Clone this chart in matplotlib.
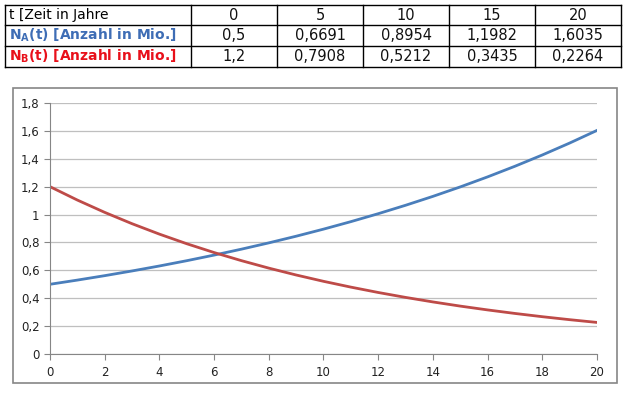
import matplotlib
matplotlib.use("Agg")
import matplotlib.pyplot as plt
from matplotlib.ticker import FuncFormatter, MultipleLocator
from matplotlib.lines import Line2D
from matplotlib.patches import Rectangle

plt.rcParams['font.family'] = ['DejaVu Sans']
plt.rcParams['mathtext.fontset'] = 'dejavusans'

# table values
t_table = [0, 5, 10, 15, 20]
na_table = [0.5, 0.6691, 0.8954, 1.1982, 1.6035]
nb_table = [1.2, 0.7908, 0.5212, 0.3435, 0.2264]

# curve values (one per year)
years = list(range(0, 21))
na_curve = [0.5, 0.53, 0.5618, 0.5955, 0.6312, 0.6691, 0.7093, 0.7518, 0.7969, 0.8447,
            0.8954, 0.9491, 1.0061, 1.0665, 1.1304, 1.1982, 1.2702, 1.3464, 1.4272, 1.5128, 1.6035]
nb_curve = [1.2, 1.104, 1.0157, 0.9344, 0.8597, 0.7908, 0.7276, 0.6694, 0.6159, 0.5666,
            0.5212, 0.4796, 0.4412, 0.4059, 0.3734, 0.3435, 0.3161, 0.2908, 0.2675, 0.2461, 0.2264]

blue = '#4A7EBB'
red = '#BE4B48'
W, H = 629, 395

fig = plt.figure(figsize=(W / 100, H / 100), dpi=100)

def fx(px):
    return px / W

def fy(py):
    return 1 - py / H

def hline(x0, x1, y, lw=1.0, c='black'):
    fig.add_artist(Line2D([fx(x0), fx(x1)], [fy(y), fy(y)], color=c, lw=lw, transform=fig.transFigure))

def vline(x, y0, y1, lw=1.0, c='black'):
    fig.add_artist(Line2D([fx(x), fx(x)], [fy(y0), fy(y1)], color=c, lw=lw, transform=fig.transFigure))

def dec(v):
    return ('%g' % v).replace('.', ',')

# --- table ---
col_edges = [5, 191, 277, 363, 449, 535, 621]
row_edges = [5, 25, 46, 67]
for y in row_edges:
    hline(col_edges[0], col_edges[-1], y, lw=1.0)
for x in col_edges:
    vline(x, row_edges[0], row_edges[-1], lw=1.0)

rows = [
    ("t [Zeit in Jahre", 'black', 'normal', [str(t) for t in t_table]),
    (r"N$_\mathbf{A}$(t) [Anzahl in Mio.]", '#3E6DB5', 'bold', [dec(v) for v in na_table]),
    (r"N$_\mathbf{B}$(t) [Anzahl in Mio.]", '#E8101A', 'bold', [dec(v) for v in nb_table]),
]
for i, (label, col, wt, vals) in enumerate(rows):
    yc = (row_edges[i] + row_edges[i + 1]) / 2
    fig.text(fx(col_edges[0] + 4), fy(yc), label, color=col, fontweight=wt, fontsize=10,
             ha='left', va='center')
    for j, v in enumerate(vals):
        xc = (col_edges[j + 1] + col_edges[j + 2]) / 2
        fig.text(fx(xc), fy(yc), v, color='#111111', fontsize=10.5, ha='center', va='center')

# --- chart frame ---
fig.add_artist(Rectangle((fx(13), fy(383)), fx(617) - fx(13), fy(88) - fy(383),
                         fill=False, edgecolor='#868686', lw=1.2, transform=fig.transFigure))

ax = fig.add_axes([fx(50), fy(354), fx(597) - fx(50), fy(103) - fy(354)])
ax.plot(years, na_curve, color=blue, lw=2)
ax.plot(years, nb_curve, color=red, lw=2)

ax.set_xlim(0, 20)
ax.set_ylim(0, 1.8)
ax.xaxis.set_major_locator(MultipleLocator(2))
ax.yaxis.set_major_locator(MultipleLocator(0.2))
ax.yaxis.set_major_formatter(FuncFormatter(lambda v, p: dec(round(v, 1))))
ax.grid(axis='y', color='#BFBFBF', lw=0.9)
ax.set_axisbelow(True)
for s in ['top', 'right']:
    ax.spines[s].set_visible(False)
for s in ['left', 'bottom']:
    ax.spines[s].set_color('#868686')
ax.tick_params(direction='out', length=4, color='#868686', labelsize=8.5, labelcolor='#222222')
ax.tick_params(axis='x', pad=5)

fig.savefig('out.png', dpi=100)
